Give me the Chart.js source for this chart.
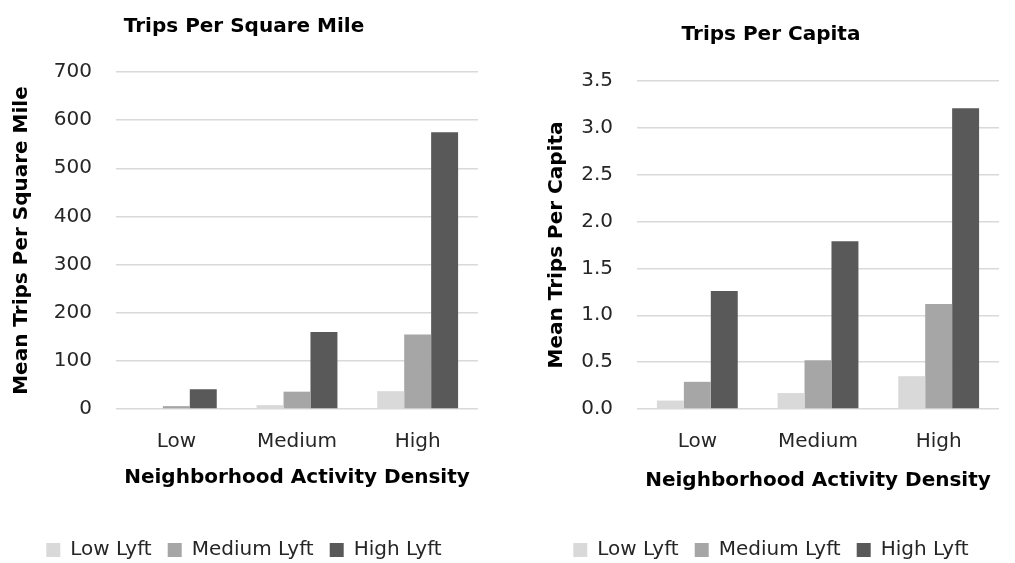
<!DOCTYPE html>
<html>
<head>
<meta charset="utf-8">
<script src="https://cdn.jsdelivr.net/npm/chart.js@4.4.1/dist/chart.umd.min.js"></script>
<style>
  html, body { margin: 0; padding: 0; background: #fff; overflow: hidden; }
  .box { position: absolute; top: 0; height: 575px; }
  #left { left: 0; width: 500px; }
  #right { left: 515px; width: 500px; }
</style>
</head>
<body>
<div class="box" id="left"><canvas id="sqmi"></canvas></div>
<div class="box" id="right"><canvas id="capita"></canvas></div>
<script>
// data
const categories = ['Low', 'Medium', 'High'];
const seriesNames = ['Low Lyft', 'Medium Lyft', 'High Lyft'];
const seriesColors = ['#d9d9d9', '#a6a6a6', '#595959'];

const sqmiLow = [1, 8, 37];
const sqmiMedium = [6, 36, 155];
const sqmiHigh = [41, 160, 575];

const capitaLow = [0.09, 0.17, 0.35];
const capitaMedium = [0.29, 0.52, 1.12];
const capitaHigh = [1.26, 1.79, 3.21];

const FONT = 'DejaVu Sans';
const TEXT = '#262626';

function makeDatasets(values) {
  return values.map((v, i) => ({
    label: seriesNames[i],
    data: v,
    backgroundColor: seriesColors[i],
    borderWidth: 0,
    categoryPercentage: 0.67,
    barPercentage: 1.0
  }));
}

function makeChart(canvasId, cfg) {
  return new Chart(document.getElementById(canvasId), {
    type: 'bar',
    data: { labels: categories, datasets: makeDatasets(cfg.values) },
    options: {
      responsive: true,
      maintainAspectRatio: false,
      animation: false,
      layout: { padding: { left: cfg.padLeft, right: cfg.padRight, top: 0, bottom: 5 } },
      plugins: {
        title: {
          display: true,
          text: cfg.title,
          color: '#000',
          font: { family: FONT, size: 20, weight: 'bold' },
          padding: { top: cfg.titleTop, bottom: cfg.titleBottom }
        },
        legend: {
          position: 'bottom',
          labels: {
            color: TEXT,
            font: { family: FONT, size: 20 },
            boxWidth: 14,
            boxHeight: 14,
            padding: 16
          }
        },
        tooltip: { enabled: false }
      },
      scales: {
        x: {
          grid: { display: false, drawTicks: false },
          border: { display: false },
          ticks: { color: TEXT, font: { family: FONT, size: 20 }, padding: 21 },
          title: {
            display: true,
            text: 'Neighborhood Activity Density',
            color: '#000',
            font: { family: FONT, size: 20, weight: 'bold' },
            padding: { top: 0, bottom: cfg.xTitlePad }
          },
          afterFit: (scale) => { scale.height = 115; }
        },
        y: {
          min: 0,
          max: cfg.max,
          grid: { color: '#d9d9d9', lineWidth: 1.5, drawTicks: false },
          border: { display: false },
          ticks: {
            stepSize: cfg.step,
            color: TEXT,
            font: { family: FONT, size: 20 },
            padding: 24,
            callback: cfg.fmt
          },
          title: {
            display: true,
            text: cfg.yTitle,
            color: '#000',
            font: { family: FONT, size: 20, weight: 'bold' },
            padding: { top: cfg.yTitlePad, bottom: 0 }
          },
          afterFit: (scale) => { scale.width = cfg.yWidth; }
        }
      }
    }
  });
}

makeChart('sqmi', {
  values: [sqmiLow, sqmiMedium, sqmiHigh],
  title: 'Trips Per Square Mile',
  yTitle: 'Mean Trips Per Square Mile',
  max: 700, step: 100,
  fmt: (v) => v,
  padLeft: 10, padRight: 22,
  yWidth: 106, yTitlePad: 0, xTitlePad: 34,
  titleTop: 15, titleBottom: 33
});

makeChart('capita', {
  values: [capitaLow, capitaMedium, capitaHigh],
  title: 'Trips Per Capita',
  yTitle: 'Mean Trips Per Capita',
  max: 3.5, step: 0.5,
  fmt: (v) => Number(v).toFixed(1),
  padLeft: 28, padRight: 16,
  yWidth: 94, yTitlePad: 2, xTitlePad: 31,
  titleTop: 23, titleBottom: 34
});
</script>
</body>
</html>
